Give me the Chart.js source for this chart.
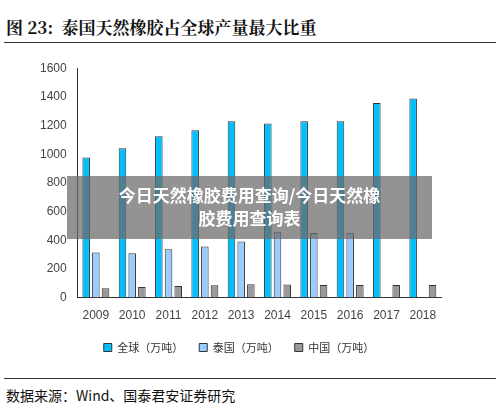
<!DOCTYPE html>
<html><head><meta charset="utf-8">
<script src="https://cdn.jsdelivr.net/npm/chart.js@4"></script>
<style>
body{margin:0;width:500px;height:416px;background:#fff;position:relative;font-family:"Noto Sans CJK SC",serif;overflow:hidden}
#title{position:absolute;left:6px;top:14px;font-size:17px;font-family:"Noto Serif CJK SC","Noto Sans CJK SC";font-weight:bold;color:#111}
#tline{position:absolute;left:4px;right:4px;top:42px;border-top:1.5px solid #333}
#bline{position:absolute;left:4px;right:4px;top:378px;border-top:1px solid #333}
#src{position:absolute;left:6px;top:385px;font-size:14px;color:#111}
#wrap{position:absolute;left:37px;top:58px;width:414px;height:305px}
#banner{position:absolute;left:67px;top:176px;width:365px;height:63px;background:rgba(105,105,105,0.72);color:#fff;font-weight:bold;font-size:17px;text-align:center;line-height:23px;padding-top:7px;box-sizing:border-box}
</style></head><body>
<div id="title">图 23:&nbsp; 泰国天然橡胶占全球产量最大比重</div>
<div id="tline"></div>
<div id="wrap"><canvas id="c"></canvas></div>
<div id="banner">今日天然橡胶费用查询/今日天然橡<br>胶费用查询表</div>
<div id="bline"></div>
<div id="src">数据来源：Wind、国泰君安证券研究</div>
<script>
const years = ['2009','2010','2011','2012','2013','2014','2015','2016','2017','2018'];
const world = [977,1042,1126,1167,1230,1214,1230,1230,1358,1388];
const thai = [314,309,337,356,391,460,451,453,null,null];
const china = [65,74,81,86,93,91,88,88,88,88];
const yTicks = [0,200,400,600,800,1000,1200,1400,1600];

const ds = (label, data, color) => ({label, data, backgroundColor: color, borderColor: '#333', borderWidth: 1,
  barPercentage: 0.78, categoryPercentage: 0.8});
new Chart(document.getElementById('c'), {
  type: 'bar',
  data: { labels: years, datasets: [
    ds('全球（万吨）', world, '#00bfff'),
    ds('泰国（万吨）', thai, '#99ccff'),
    ds('中国（万吨）', china, '#999999')
  ]},
  options: {
    responsive: true, maintainAspectRatio: false, animation: false,
    layout: { padding: { right: 10, top: 3 } },
    plugins: {
      legend: { position: 'bottom', labels: { color: '#333', font: { size: 11, family: 'Noto Sans CJK SC' }, boxWidth: 8, boxHeight: 8, padding: 16 } },
      tooltip: { enabled: false }
    },
    scales: {
      x: { grid: { display: false, drawTicks: true }, border: { color: '#333' },
           ticks: { color: '#444', font: { size: 12 } } },
      y: { min: 0, max: 1600, afterBuildTicks: a => { a.ticks = yTicks.map(v => ({value: v})); },
           grid: { display: false }, border: { color: '#333' },
           ticks: { color: '#444', font: { size: 12 }, callback: v => String(v) } }
    }
  }
});
</script>
</body></html>
